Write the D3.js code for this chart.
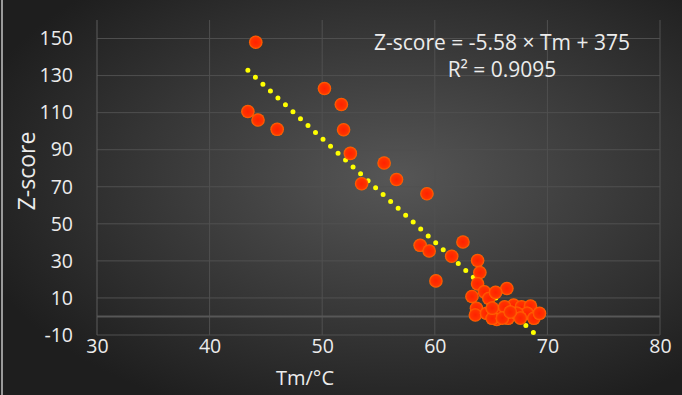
<!DOCTYPE html>
<html>
<head>
<meta charset="utf-8">
<script src="https://cdn.jsdelivr.net/npm/d3@7"></script>
<style>
  body { margin: 0; background: #222; }
  svg { display: block; }
  text { font-family: "Open Sans", "Noto Sans", sans-serif; fill: #ececec; }
</style>
</head>
<body>
<svg width="682" height="395"></svg>
<script>
// data
var tm = [44.1, 43.4, 44.3, 46.0, 50.2, 51.7, 51.9, 52.5, 55.5, 53.5, 56.6, 59.3,
	62.5, 58.7, 59.5, 61.5, 63.8, 60.1, 64.0, 63.8, 66.4, 63.3, 64.4, 64.8,
	65.4, 63.7, 63.6, 64.6, 65.6, 65.5, 66.5, 67.0, 67.7, 68.5, 68.2, 68.8,
	69.3, 66.2, 67.3, 65.1, 66.0, 67.6, 66.7, 65.1]
var zscore = [148, 110.6, 106, 101, 123, 114.4, 100.8, 88, 82.8, 71.6, 73.9, 66.2,
	40.2, 38.4, 35.3, 32.5, 30.2, 19.2, 23.7, 17.6, 15.1, 10.8, 13.3, 9.7,
	13, 4.4, 0.8, 1.7, 2.5, -1.6, -1, 6.1, 5.2, 5.6, 1.7, -1,
	1.7, 5.2, 1.7, -1, -0.9, -0.9, 2.4, 4.5]
var fitSlope = -5.58
var fitIntercept = 375
var fitRange = [43.4, 69.0]
var xTicks = [30, 40, 50, 60, 70, 80]
var yTicks = [-10, 10, 30, 50, 70, 90, 110, 130, 150]
var equation = ["Z-score = -5.58 \u00d7 Tm + 375", "R\u00b2 = 0.9095"]

var svg = d3.select("svg"),
	width = +svg.attr("width"),
	height = +svg.attr("height")

var margin = { top: 20, right: 22, bottom: 60, left: 97 }

var defs = svg.append("defs")
var bg = defs.append("radialGradient").attr("id", "bg")
	.attr("cx", "58%").attr("cy", "45%").attr("r", "65%")
bg.append("stop").attr("offset", "0%").attr("stop-color", "#565656")
bg.append("stop").attr("offset", "100%").attr("stop-color", "#1e1e1e")

var dot = defs.append("radialGradient").attr("id", "dot")
dot.append("stop").attr("offset", "0%").attr("stop-color", "#ff2200")
dot.append("stop").attr("offset", "70%").attr("stop-color", "#ff3300")
dot.append("stop").attr("offset", "100%").attr("stop-color", "#ff6a00")

svg.append("rect")
	.attr("width", width).attr("height", height)
	.attr("fill", "url(#bg)")
svg.append("rect")
	.attr("x", 1).attr("width", 2).attr("height", height)
	.attr("fill", "#9a9a9a")

var x = d3.scaleLinear().domain([30, 80]).range([margin.left, width - margin.right])
var y = d3.scaleLinear().domain([-10, 160]).range([height - margin.bottom, margin.top])

// grid
svg.append("g").selectAll("line").data(yTicks).join("line")
	.attr("x1", x(30)).attr("x2", x(80))
	.attr("y1", d => y(d)).attr("y2", d => y(d))
	.attr("stroke", "#505050").attr("stroke-width", 1)
svg.append("g").selectAll("line").data(xTicks).join("line")
	.attr("x1", d => x(d)).attr("x2", d => x(d))
	.attr("y1", y(-10)).attr("y2", y(160))
	.attr("stroke", d => d === 30 ? "#5c5c5c" : "#505050").attr("stroke-width", 1)
// horizontal axis sits at zero
svg.append("line")
	.attr("x1", x(30)).attr("x2", x(80))
	.attr("y1", y(0)).attr("y2", y(0))
	.attr("stroke", "#575757").attr("stroke-width", 2)

// axes
var xAxis = svg.append("g")
	.attr("transform", "translate(0," + y(-10) + ")")
	.call(d3.axisBottom(x).tickValues(xTicks).tickSize(0).tickPadding(4))
var yAxis = svg.append("g")
	.attr("transform", "translate(" + (x(30) - 24) + ",0)")
	.call(d3.axisLeft(y).tickValues(yTicks).tickFormat(d => String(d)).tickSize(0).tickPadding(0))
xAxis.select(".domain").remove()
yAxis.select(".domain").remove()
svg.selectAll(".tick text").attr("font-size", 19.5).attr("fill", "#ececec")
	.attr("font-family", "'Open Sans', sans-serif")

svg.append("text")
	.attr("transform", "translate(35,171) rotate(-90)")
	.attr("text-anchor", "middle")
	.attr("font-size", 23)
	.text("Z-score")
svg.append("text")
	.attr("x", 305).attr("y", 385)
	.attr("text-anchor", "middle")
	.attr("font-size", 20)
	.text("Tm/\u00b0C")

// trend line
var fit = fitRange.map(t => [t, fitSlope * t + fitIntercept])
svg.append("line")
	.attr("x1", x(fit[0][0])).attr("y1", y(fit[0][1]))
	.attr("x2", x(fit[1][0])).attr("y2", y(fit[1][1]))
	.attr("stroke", "#ffff00").attr("stroke-width", 5)
	.attr("stroke-linecap", "round")
	.attr("stroke-dasharray", "0 10.2")

// points
svg.append("g").selectAll("circle").data(tm).join("circle")
	.attr("cx", d => x(d))
	.attr("cy", (d, i) => y(zscore[i]))
	.attr("r", 6.8)
	.attr("fill", "url(#dot)")

// fit equation
svg.append("g").selectAll("text").data(equation).join("text")
	.attr("x", 502).attr("y", (d, i) => 50 + i * 27)
	.attr("text-anchor", "middle")
	.attr("font-size", 21)
	.text(d => d)
</script>
</body>
</html>
